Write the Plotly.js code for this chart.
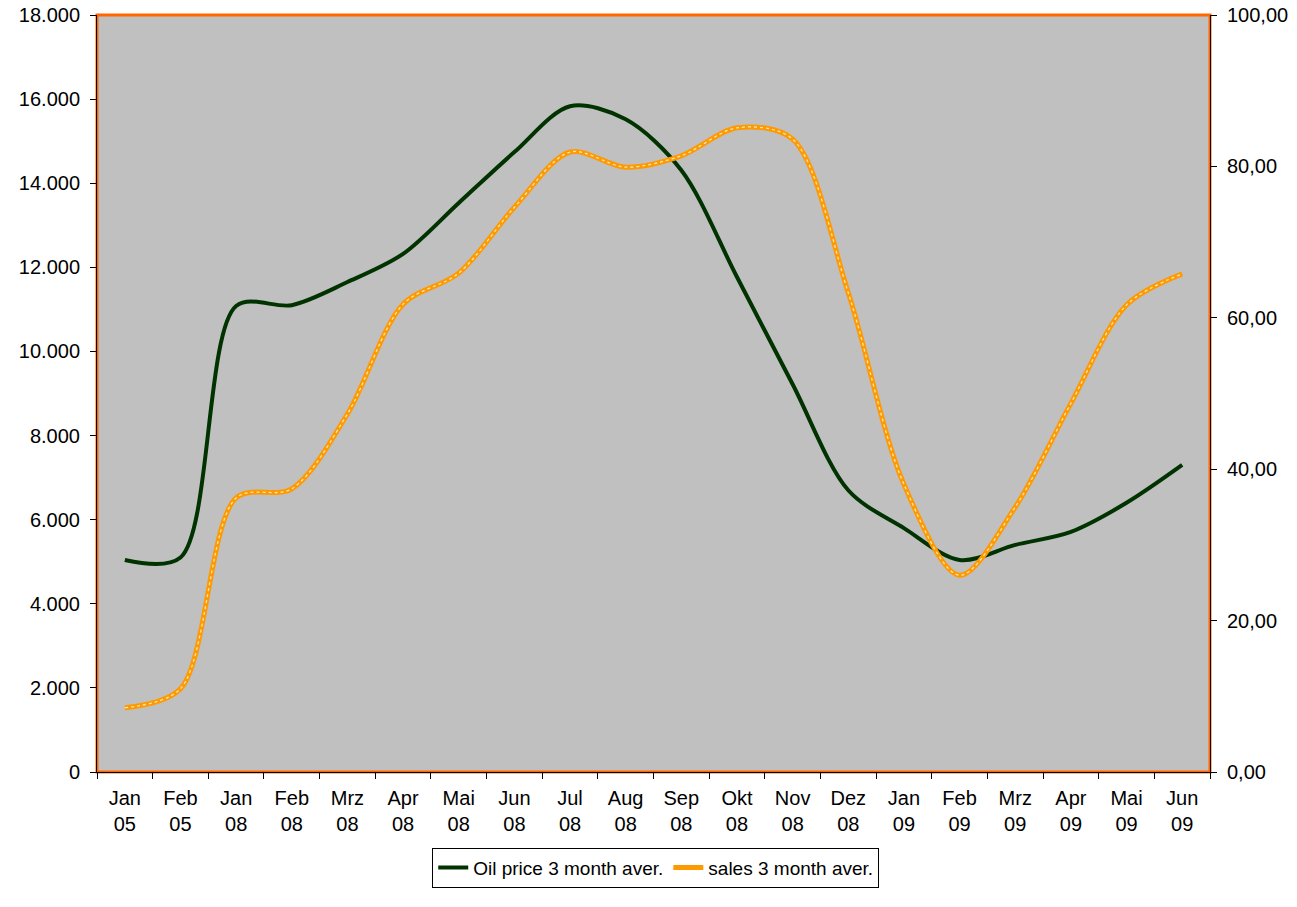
<!DOCTYPE html>
<html>
<head>
<meta charset="utf-8">
<script src="https://cdn.plot.ly/plotly-3.0.1.min.js"></script>
<style>
html,body{margin:0;padding:0;background:#fff;}
#chart{width:1297px;height:907px;}
</style>
</head>
<body>
<div id="chart"></div>
<script>
// Category labels (month / year)
const months = ["Jan","Feb","Jan","Feb","Mrz","Apr","Mai","Jun","Jul","Aug","Sep","Okt","Nov","Dez","Jan","Feb","Mrz","Apr","Mai","Jun"];
const years  = ["05","05","08","08","08","08","08","08","08","08","08","08","08","08","09","09","09","09","09","09"];
const categories = months.map((m, i) => m + "<br>" + years[i]);

// Oil price 3 month average (left axis)
const oilPrice = [5040, 5100, 11080, 11100, 11650, 12320, 13530, 14740, 15830, 15520, 14310, 11770, 9220, 6700, 5800, 5040, 5400, 5710, 6400, 7300];

// Sales 3 month average (right axis)
const sales = [8.5, 11.0, 36.2, 37.4, 47.3, 61.8, 65.9, 74.6, 81.9, 79.9, 81.4, 85.1, 83.6, 63.3, 38.0, 26.0, 35.0, 48.7, 61.7, 65.8];

const FONT = "Liberation Sans, Arial, sans-serif";

const traces = [
  {
    x: categories, y: oilPrice, type: "scatter", mode: "lines",
    name: "Oil price 3 month aver.",
    line: {color: "#003300", width: 4, shape: "spline", smoothing: 0.9},
    yaxis: "y"
  },
  {
    x: categories, y: sales, type: "scatter", mode: "lines",
    name: "sales 3 month aver.",
    line: {color: "#FF9900", width: 5, shape: "spline", smoothing: 0.9},
    yaxis: "y2"
  },
  {
    x: categories, y: sales, type: "scatter", mode: "lines",
    name: "sales texture", showlegend: false, hoverinfo: "skip",
    line: {color: "#FFE6B0", width: 1.3, dash: "dot", shape: "spline", smoothing: 0.9},
    yaxis: "y2"
  }
];

const layout = {
  width: 1297, height: 907,
  margin: {l: 97, r: 87, t: 15, b: 135},
  paper_bgcolor: "#FFFFFF",
  plot_bgcolor: "#C0C0C0",
  separators: ",.",
  font: {family: FONT, size: 20, color: "#000"},
  showlegend: true,
  legend: {
    orientation: "h", x: 0.502, xanchor: "center", y: -0.1, yanchor: "top",
    bordercolor: "#000", borderwidth: 1, bgcolor: "#FFF",
    font: {family: FONT, size: 19, color: "#000"},
    tracegroupgap: 0
  },
  xaxis: {
    type: "category",
    range: [-0.5, 19.5],
    tickson: "boundaries",
    ticks: "outside", ticklen: 6, tickcolor: "#000", tickwidth: 1,
    ticklabelstandoff: 8,
    showgrid: false, zeroline: false,
    showline: true, linecolor: "#000", linewidth: 1,
    tickfont: {family: FONT, size: 20, color: "#000"},
    tickangle: 0,
    fixedrange: true
  },
  yaxis: {
    range: [0, 18000], dtick: 2000, tick0: 0,
    tickformat: ",d",
    ticks: "outside", ticklen: 6, tickcolor: "#000",
    ticklabelstandoff: 6,
    showgrid: false, zeroline: false,
    showline: true, linecolor: "#000", linewidth: 1,
    tickfont: {family: FONT, size: 20, color: "#000"},
    fixedrange: true
  },
  yaxis2: {
    overlaying: "y", side: "right",
    range: [0, 100], dtick: 20, tick0: 0,
    tickformat: ".2f",
    ticks: "outside", ticklen: 6, tickcolor: "#000",
    ticklabelstandoff: 6,
    showgrid: false, zeroline: false,
    showline: true, linecolor: "#000", linewidth: 1,
    tickfont: {family: FONT, size: 20, color: "#000"},
    fixedrange: true
  },
  shapes: [
    {type: "rect", xref: "paper", yref: "paper", x0: 0, x1: 1, y0: 0, y1: 1,
     line: {color: "#FF6600", width: 3}, fillcolor: "rgba(0,0,0,0)", layer: "below"}
  ]
};

Plotly.newPlot("chart", traces, layout, {displayModeBar: false, staticPlot: true});
</script>
</body>
</html>
